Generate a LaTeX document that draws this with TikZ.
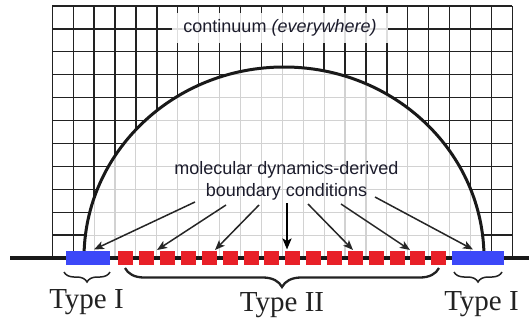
\documentclass[tikz,border=0pt]{standalone}
\usepackage{fontspec}
\setmainfont{Liberation Serif}
\setsansfont{Liberation Sans}
\usetikzlibrary{arrows.meta,decorations.pathreplacing}
\definecolor{gdark}{HTML}{222222}
\definecolor{glight}{HTML}{D2D2D2}
\definecolor{bblue}{HTML}{3C48F8}
\definecolor{rred}{HTML}{E82028}
\definecolor{txt}{HTML}{1C1C2C}
\definecolor{typetxt}{HTML}{222222}
\tikzset{
  darkgrid/.style={gdark,line width=1.3pt},
  lightgrid/.style={glight,line width=1.1pt},
  dome/.style={black!90,line width=3pt},
  baseln/.style={black!90,line width=3.5pt},
  blueblock/.style={fill=bblue,draw=none,minimum height=14pt,inner sep=0pt},
  redsq/.style={fill=rred,draw=none,minimum width=15pt,minimum height=14pt,inner sep=0pt},
  mdarrow/.style={black!85,line width=1.5pt,-{Stealth[length=10pt,width=8pt,inset=2.5pt]}},
  mdarrowthick/.style={black,line width=2.6pt,-{Stealth[length=11pt,width=9pt,inset=2.5pt]}},
  bracethin/.style={typetxt,line width=1.5pt,decorate,decoration={brace,mirror,amplitude=10pt}},
  bracethick/.style={typetxt,line width=2.3pt,decorate,decoration={brace,mirror,amplitude=19pt}},
  sanslabel/.style={font=\sffamily\fontsize{18}{21.5}\selectfont,text=txt,inner sep=0pt},
  typelabel/.style={font=\fontsize{29}{32}\selectfont,text=typetxt,inner sep=0pt,anchor=base},
}
\begin{document}
\begin{tikzpicture}[x=1pt,y=-1pt]
\useasboundingbox (0,0) rectangle (529,321);
\fill[white] (0,0) rectangle (529,321);
% dark grid
\foreach \k in {0,...,22} { \draw[darkgrid] ({52.3+20.91*\k},6) -- ({52.3+20.91*\k},258); }
\foreach \k in {0,...,11} { \draw[darkgrid] (52.3,{6+22.91*\k}) -- (512.3,{6+22.91*\k}); }
% light grid inside the dome
\begin{scope}
  \clip (84,258) arc[start angle=180,end angle=0,x radius=200pt,y radius=191pt] -- cycle;
  \fill[white] (0,0) rectangle (529,321);
  \foreach \k in {0,...,22} { \draw[lightgrid] ({52.3+20.91*\k},6) -- ({52.3+20.91*\k},258); }
  \foreach \k in {0,...,11} { \draw[lightgrid] (52.3,{6+22.91*\k}) -- (512.3,{6+22.91*\k}); }
\end{scope}
% continuum label
\fill[white,opacity=0.85] (172,13) rectangle (388,43);
\node[sanslabel,anchor=base] (cont) at (280,32.5) {continuum \textit{(everywhere)}};
% dome
\draw[dome] (84,258) arc[start angle=180,end angle=0,x radius=200pt,y radius=191pt];
% baseline
\coordinate (bl0) at (10,258);
\coordinate (bl1) at (529,258);
\draw[baseln] (bl0) -- (bl1);
% blocks
\node[blueblock,minimum width=44pt] (bL) at (88,258) {};
\node[blueblock,minimum width=52pt] (bR) at (478,258) {};
\foreach \k in {0,...,15} { \node[redsq] (r\k) at ({125.8+20.87*\k},258) {}; }
% md label
\node[sanslabel,align=center] (md) at (286.5,181) {molecular dynamics-derived\\boundary conditions};
% arrows
\coordinate (s1) at (195,202); \coordinate (t1) at (94,249.5);
\coordinate (s2) at (226,205); \coordinate (t2) at (157,250);
\coordinate (s3) at (259,205); \coordinate (t3) at (215,250);
\coordinate (s4) at (287,203); \coordinate (t4) at (287,249.5);
\coordinate (s5) at (308,204); \coordinate (t5) at (353,250);
\coordinate (s6) at (341,204); \coordinate (t6) at (410,250);
\coordinate (s7) at (375,197); \coordinate (t7) at (473,249.5);
\draw[mdarrow] (s1) -- (t1);
\draw[mdarrow] (s2) -- (t2);
\draw[mdarrow] (s3) -- (t3);
\draw[mdarrowthick] (s4) -- (t4);
\draw[mdarrow] (s5) -- (t5);
\draw[mdarrow] (s6) -- (t6);
\draw[mdarrow] (s7) -- (t7);
% braces
\coordinate (bl1a) at (64,272); \coordinate (bl1b) at (110,272);
\coordinate (bl2a) at (125,268); \coordinate (bl2b) at (439,268);
\coordinate (bl3a) at (454,272); \coordinate (bl3b) at (502,272);
\draw[bracethin] (bl1a) -- (bl1b);
\draw[bracethick] (bl2a) -- (bl2b);
\draw[bracethin] (bl3a) -- (bl3b);
% type labels
\node[typelabel] (ty1) at (86.5,308) {Type I};
\node[typelabel] (ty2) at (282,311) {Type II};
\node[typelabel] (ty3) at (481.5,310) {Type I};
\end{tikzpicture}
\end{document}
